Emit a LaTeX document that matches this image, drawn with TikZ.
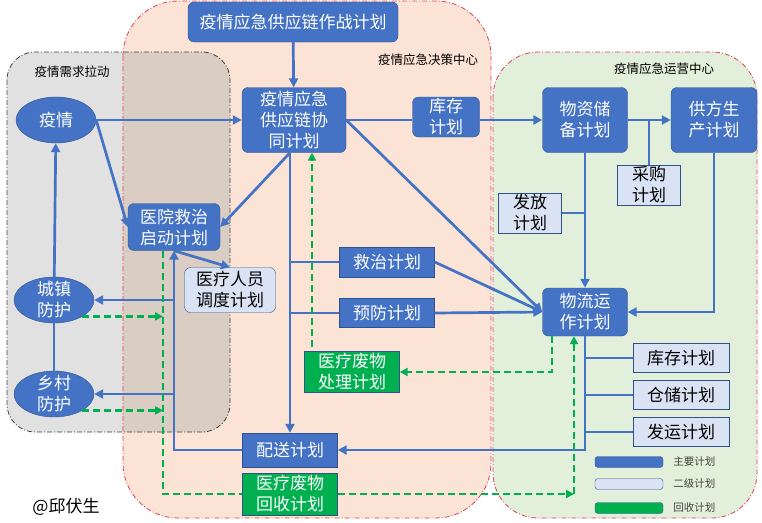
\documentclass[tikz,border=0pt]{standalone}
\usepackage{fontspec}
\usepackage{tikz}
\usetikzlibrary{positioning,arrows.meta,shapes.geometric,calc}
\newfontfamily\cjk{Noto Sans CJK SC}
\definecolor{PlanBlue}{HTML}{4472C4}
\definecolor{PlanEdge}{HTML}{2F528F}
\definecolor{PlanLight}{HTML}{DAE3F3}
\definecolor{PlanGreen}{HTML}{00B050}
\definecolor{PullGray}{HTML}{E1E1E1}
\definecolor{DecidePink}{HTML}{FBE3D5}
\definecolor{OverlapTan}{HTML}{DACDC4}
\definecolor{RunGreen}{HTML}{E2EFDA}
\definecolor{ZoneRed}{HTML}{E0404F}

\begin{document}
\begin{tikzpicture}[
  x=1pt,y=-1pt,
  txt/.style={font=\cjk\fontsize{17}{21}\selectfont},
  main/.style={txt,draw=PlanEdge,fill=PlanBlue,text=white,align=center,inner sep=0pt,rounded corners=6pt},
  mainsq/.style={main,rounded corners=0pt},
  oval/.style={txt,ellipse,draw=PlanEdge,fill=PlanBlue,text=white,align=center,inner xsep=2pt,inner ysep=-4pt,minimum width=80pt,minimum height=46pt},
  second/.style={txt,draw=PlanEdge,fill=PlanLight,text=black,align=center,inner sep=0pt},
  recycle/.style={txt,draw=PlanEdge,fill=PlanGreen,text=white,align=center,inner sep=0pt},
  zone/.style={line width=0.8pt,dash pattern=on 5pt off 2pt on 1pt off 2pt},
  zonelabel/.style={font=\cjk\fontsize{12.5}{14}\selectfont},
  keytext/.style={font=\cjk\fontsize{10.5}{12}\selectfont,text=black!75,inner sep=0pt},
  link/.style={draw=PlanBlue,line width=2.7pt},
  flow/.style={link,-{Triangle[length=9pt,width=9pt]}},
  back/.style={draw=PlanGreen,line width=2.6pt,dash pattern=on 7pt off 4pt},
  backflow/.style={back,-{Triangle[length=8pt,width=8pt]}}
]
\useasboundingbox (0,0) rectangle (762,522);

% zones
\fill[PullGray,rounded corners=28pt] (7,52) rectangle (230,432);
\fill[DecidePink,rounded corners=55pt] (123,1) rectangle (491,518);
\fill[RunGreen,rounded corners=45pt] (493,52) rectangle (757,518);
\begin{scope}
  \clip[rounded corners=55pt] (123,1) rectangle (491,518);
  \fill[OverlapTan,rounded corners=28pt] (7,52) rectangle (230,432);
\end{scope}
\draw[zone,draw=black!75,rounded corners=28pt] (7,52) rectangle (230,432);
\draw[zone,draw=ZoneRed,rounded corners=55pt] (123,1) rectangle (491,518);
\draw[zone,draw=ZoneRed,rounded corners=45pt] (493,52) rectangle (757,518);
\node[zonelabel] (pulltitle) at (72,72) {疫情需求拉动};
\node[zonelabel] (decidetitle) at (428,60) {疫情应急决策中心};
\node[zonelabel] (runtitle) at (664,69) {疫情应急运营中心};

% plans
\node[main,minimum width=210pt,minimum height=40pt] (warplan) at (293,22) {疫情应急供应链作战计划};
\node[oval] (epidemic) at (56,120) {疫情};
\node[main,minimum width=104pt,minimum height=65pt] (coplan) at (294,120) {疫情应急\\供应链协\\同计划};
\node[main,minimum width=67pt,minimum height=40pt] (stock) at (446,117) {库存\\计划};
\node[main,minimum width=85pt,minimum height=65pt] (reserve) at (585,120) {物资储\\备计划};
\node[main,minimum width=86pt,minimum height=65pt] (supplier) at (714,120) {供方生\\产计划};
\node[second,minimum width=63pt,minimum height=40pt] (purchase) at (649,185) {采购\\计划};
\node[second,minimum width=63pt,minimum height=40pt] (release) at (530,213) {发放\\计划};
\node[main,minimum width=92pt,minimum height=47pt] (hospital) at (174,227) {医院救治\\启动计划};
\node[second,rounded corners=6pt,minimum width=91pt,minimum height=45pt] (staff) at (230,290) {医疗人员\\调度计划};
\node[mainsq,minimum width=95pt,minimum height=30pt] (treat) at (387,262) {救治计划};
\node[mainsq,minimum width=95pt,minimum height=29pt] (prevent) at (387,313) {预防计划};
\node[main,minimum width=85pt,minimum height=48pt] (logistics) at (585,312) {物流运\\作计划};
\node[oval] (town) at (54,300) {城镇\\防护};
\node[oval] (village) at (54,394) {乡村\\防护};
\node[recycle,minimum width=95pt,minimum height=41pt] (disposal) at (352,372) {医疗废物\\处理计划};
\node[second,minimum width=96pt,minimum height=29pt] (whstock) at (681,358) {库存计划};
\node[second,minimum width=96pt,minimum height=29pt] (storage) at (681,395) {仓储计划};
\node[second,minimum width=96pt,minimum height=29pt] (shipping) at (681,432) {发运计划};
\node[mainsq,minimum width=95pt,minimum height=34pt] (delivery) at (290,450) {配送计划};
\node[recycle,minimum width=95pt,minimum height=42pt] (recovery) at (290,494) {医疗废物\\回收计划};

% key
\node[main,rounded corners=3pt,minimum width=68pt,minimum height=11pt] (keymain) at (629,462) {};
\node[second,rounded corners=3pt,minimum width=68pt,minimum height=11pt] (keysecond) at (629,484) {};
\node[recycle,rounded corners=3pt,minimum width=68pt,minimum height=11pt] (keyrecycle) at (629,508) {};
\node[keytext,right=10pt of keymain] (keymaintext) {主要计划};
\node[keytext,right=10pt of keysecond] (keysecondtext) {二级计划};
\node[keytext,right=10pt of keyrecycle] (keyrecycletext) {回收计划};
\node[txt] (author) at (66,507) {@邱伏生};

% main flows
\draw[flow] (warplan) -- (coplan);
\draw[flow] (epidemic) -- (coplan);
\draw[flow] (epidemic.east) -- (hospital.west);
\draw[flow] (town) -- (epidemic);
\draw[link] (village) -- (town);
\draw[flow] (coplan.south -| delivery.north) -- (hospital.east);
\draw[link] (coplan.east) -- (coplan.east -| stock.west);
\draw[flow] (stock.east |- reserve.west) -- (reserve.west);
\draw[flow] (coplan.east) -- (logistics.west);
\draw[flow] (coplan.south -| delivery.north) -- (delivery.north);
\draw[link] (treat.west) -- (treat.west -| delivery.north);
\draw[link] (prevent.west) -- (prevent.west -| delivery.north);
\draw[flow] (treat.east) -- (logistics.west);
\draw[flow] (prevent.east) -- (logistics.west);
\draw[flow] (reserve) -- (logistics);
\draw[link] (release.east) -- (release.east -| reserve.south);
\draw[flow] (reserve) -- (supplier);
\draw[link] (purchase.north) -- (purchase.north |- reserve.east);
\draw[flow] (supplier.south) |- (logistics.east);
\draw[flow] (logistics.south) |- (delivery.east);
\foreach \n in {whstock,storage,shipping}
  \draw[link] (\n.west) -- (\n.west -| logistics.south);
\draw[flow] (delivery.west) -| (hospital.south);
\draw[flow] (town.east -| hospital.south) -- (town.east);
\draw[flow] (village.east -| hospital.south) -- (village.east);
\draw[flow] (hospital.south) -- (staff.north);

% recycling flows
\coordinate (gtop) at ([xshift=-11pt]hospital.south);
\coordinate (gcorner) at ($(recovery.east -| logistics.south)+(-11,0)$);
\coordinate (gdown) at ($(logistics.south)+(-33,0)$);
\coordinate (gup) at ($(disposal.north)+(-40,-4)$);
\draw[back] (gtop) |- (recovery.west);
\draw[backflow] (town.south east) -- (town.south east -| gtop);
\draw[backflow] (village.south east) -- (village.south east -| gtop);
\draw[backflow] (recovery.east) -- (gcorner);
\draw[backflow] (gcorner) -- (gcorner |- logistics.south);
\draw[backflow] (gdown) |- (disposal.east);
\draw[backflow] (gup) -- (gup |- coplan.south);
\end{tikzpicture}
\end{document}
